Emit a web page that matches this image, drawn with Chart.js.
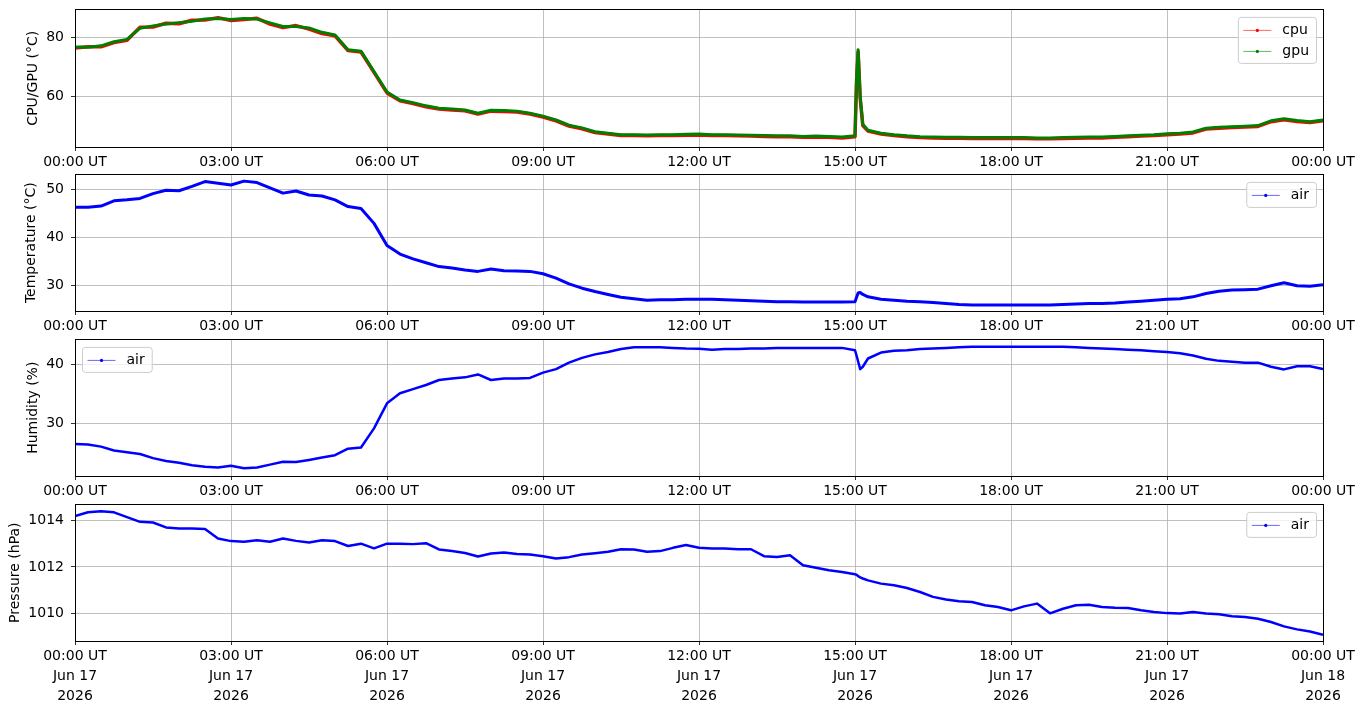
<!DOCTYPE html>
<html>
<head>
<meta charset="utf-8">
<title>Sensor log</title>
<script src="https://cdn.jsdelivr.net/npm/chart.js@4.4.1/dist/chart.umd.min.js"></script>
<style>
  body { margin: 0; background: #fff; width: 1364px; height: 707px; overflow: hidden; position: relative; }
  canvas { position: absolute; left: 0; }
</style>
</head>
<body>
<canvas id="cpuChart"></canvas>
<canvas id="tempChart"></canvas>
<canvas id="humChart"></canvas>
<canvas id="presChart"></canvas>
<script>
// hours since 00:00 UT, Jun 17 2026 (extra samples around the 15:00 event)
const hours = [0,0.25,0.5,0.75,1,1.25,1.5,1.75,2,2.25,2.5,2.75,3,3.25,3.5,3.75,4,4.25,4.5,4.75,
  5,5.25,5.5,5.75,6,6.25,6.5,6.75,7,7.25,7.5,7.75,8,8.25,8.5,8.75,9,9.25,9.5,9.75,
  10,10.25,10.5,10.75,11,11.25,11.5,11.75,12,12.25,12.5,12.75,13,13.25,13.5,13.75,14,14.25,14.5,14.75,
  15,15.03,15.06,15.1,15.15,15.25,15.5,15.75,16,16.25,16.5,16.75,17,17.25,17.5,17.75,
  18,18.25,18.5,18.75,19,19.25,19.5,19.75,20,20.25,20.5,20.75,21,21.25,21.5,21.75,
  22,22.25,22.5,22.75,23,23.25,23.5,23.75,24];

const gpuTemp = [76.8,76.7,77.2,78.6,79.4,83.2,84.0,84.6,85.1,85.6,86.3,86.5,86.2,86.5,86.3,85.0,83.8,83.8,83.3,81.8,
  80.9,75.9,75.4,68.5,61.5,58.8,57.9,56.8,56.0,55.7,55.4,54.3,55.3,55.2,55.0,54.3,53.3,52.0,50.2,49.3,
  48.0,47.5,47.0,47.0,46.9,47.0,47.0,47.1,47.2,47.0,47.0,46.9,46.8,46.7,46.6,46.6,46.4,46.5,46.4,46.2,
  46.6,66.0,75.9,59.9,50.5,48.5,47.5,47.0,46.6,46.3,46.2,46.1,46.1,46.0,46.0,46.0,
  46.0,46.0,45.9,45.9,46.0,46.1,46.2,46.2,46.4,46.6,46.8,47.0,47.3,47.5,47.9,49.2,
  49.5,49.7,49.9,50.1,51.7,52.4,51.8,51.4,52.0];

const cpuTemp = [76.5,76.9,76.9,78.3,79.1,83.5,83.6,84.9,84.7,85.9,86.0,86.8,85.8,86.2,86.6,84.6,83.4,84.1,82.9,81.4,
  80.6,75.6,75.1,68.2,61.2,58.5,57.6,56.5,55.7,55.4,55.1,54.0,55.0,54.9,54.7,54.0,53.0,51.7,49.9,49.0,
  47.7,47.2,46.7,46.7,46.6,46.7,46.7,46.8,46.9,46.7,46.7,46.6,46.5,46.4,46.3,46.3,46.1,46.2,46.1,45.9,
  46.3,65.4,75.2,59.3,50.1,48.2,47.2,46.7,46.3,46.0,45.9,45.8,45.8,45.7,45.7,45.7,
  45.7,45.7,45.6,45.6,45.7,45.8,45.9,45.9,46.1,46.3,46.5,46.7,47.0,47.2,47.6,48.9,
  49.2,49.4,49.6,49.8,51.4,52.1,51.5,51.1,51.7];

const airTemp = [46.25,46.25,46.5,47.6,47.8,48.1,49.1,49.8,49.7,50.6,51.6,51.25,50.9,51.7,51.4,50.3,49.2,49.65,48.8,48.6,
  47.8,46.4,46.0,42.9,38.3,36.5,35.5,34.7,33.9,33.6,33.2,32.9,33.4,33.05,33.0,32.9,32.4,31.5,30.3,29.4,
  28.7,28.1,27.5,27.2,26.9,27.0,27.0,27.1,27.1,27.1,27.0,26.9,26.8,26.7,26.6,26.6,26.5,26.5,26.5,26.5,
  26.6,27.5,28.4,28.5,28.1,27.6,27.1,26.9,26.7,26.6,26.4,26.2,26.0,25.9,25.9,25.9,
  25.9,25.9,25.9,25.9,26.0,26.1,26.2,26.2,26.3,26.5,26.7,26.9,27.1,27.2,27.6,28.3,
  28.75,29.0,29.1,29.2,29.9,30.55,29.9,29.8,30.1];

const airHumidity = [26.5,26.4,26.05,25.4,25.1,24.8,24.1,23.6,23.3,22.9,22.65,22.5,22.8,22.4,22.5,23.0,23.5,23.45,23.8,24.2,
  24.6,25.7,25.9,29.15,33.4,35.1,35.8,36.5,37.35,37.6,37.8,38.3,37.35,37.6,37.6,37.7,38.6,39.2,40.3,41.1,
  41.7,42.1,42.6,42.9,42.9,42.9,42.8,42.7,42.65,42.5,42.6,42.6,42.7,42.7,42.8,42.8,42.8,42.8,42.8,42.8,
  42.4,41.5,40.5,39.2,39.6,41.0,42.0,42.3,42.4,42.6,42.7,42.8,42.9,43.0,43.0,43.0,
  43.0,43.0,43.0,43.0,43.0,42.9,42.8,42.7,42.6,42.5,42.4,42.25,42.1,41.9,41.5,40.95,
  40.6,40.45,40.3,40.3,39.6,39.15,39.7,39.7,39.2];

const airPressure = [1014.19,1014.35,1014.40,1014.35,1014.14,1013.94,1013.91,1013.70,1013.65,1013.65,1013.63,1013.22,1013.11,1013.08,1013.15,1013.08,1013.22,1013.12,1013.05,1013.15,
  1013.11,1012.90,1013.00,1012.80,1013.00,1013.00,1012.98,1013.02,1012.75,1012.68,1012.60,1012.45,1012.58,1012.62,1012.55,1012.53,1012.46,1012.36,1012.42,1012.53,
  1012.59,1012.65,1012.76,1012.75,1012.65,1012.68,1012.82,1012.94,1012.82,1012.79,1012.79,1012.76,1012.76,1012.46,1012.43,1012.50,1012.07,1011.96,1011.86,1011.78,
  1011.68,1011.66,1011.60,1011.55,1011.50,1011.42,1011.28,1011.21,1011.09,1010.92,1010.71,1010.60,1010.52,1010.49,1010.35,1010.27,
  1010.13,1010.30,1010.42,1010.00,1010.20,1010.35,1010.37,1010.27,1010.24,1010.23,1010.13,1010.06,1010.01,1009.99,1010.06,1009.99,
  1009.96,1009.88,1009.84,1009.77,1009.63,1009.44,1009.31,1009.22,1009.08];

const xTickHours = [0, 3, 6, 9, 12, 15, 18, 21, 24];
const tickDates = ['Jun 17', 'Jun 18'];
const tickYear = '2026';

const FONT = 'DejaVu Sans';
const PLOT_LEFT = 75, PLOT_RIGHT = 1323;

function pairs(ys) {
  return hours.map((h, i) => ({ x: h, y: ys[i] }));
}

function hhLabel(v) {
  const hh = String(v % 24).padStart(2, '0');
  return hh + ':00 UT';
}

// matplotlib-like frame (all four spines) and legend box
const mplFrame = {
  id: 'mplFrame',
  afterDraw(chart, args, opts) {
    const { ctx, chartArea: a } = chart;
    ctx.save();
    // legend
    const items = opts.items || [];
    ctx.font = '14px "' + FONT + '"';
    const textW = Math.max(...items.map(it => ctx.measureText(it.label).width));
    const w = 5.5 + 28 + 11 + textW + 7;
    const rowH = 21;
    const h = items.length * rowH + 4;
    const bx = opts.corner === 'left' ? a.left + 7 : a.right - 7 - w;
    const by = a.top + 7.5;
    ctx.beginPath();
    ctx.roundRect(bx + 0.5, by + 0.5, w, h, 3);
    ctx.fillStyle = 'rgba(255,255,255,0.8)';
    ctx.fill();
    ctx.strokeStyle = '#cccccc';
    ctx.lineWidth = 1;
    ctx.stroke();
    items.forEach((it, i) => {
      const cy = by + 2 + rowH / 2 + i * rowH + 1;
      ctx.globalAlpha = 0.6;
      ctx.strokeStyle = it.color;
      ctx.lineWidth = 1;
      ctx.beginPath();
      ctx.moveTo(bx + 5.5, cy);
      ctx.lineTo(bx + 33.5, cy);
      ctx.stroke();
      ctx.globalAlpha = 1;
      ctx.fillStyle = it.color;
      ctx.beginPath();
      ctx.arc(bx + 19.5, cy, 1.6, 0, Math.PI * 2);
      ctx.fill();
      ctx.fillStyle = '#000';
      ctx.textBaseline = 'middle';
      ctx.textAlign = 'left';
      ctx.fillText(it.label, bx + 44.5, cy);
    });
    // spines
    ctx.strokeStyle = '#000';
    ctx.lineWidth = 1;
    ctx.strokeRect(Math.round(a.left) + 0.5, Math.round(a.top) + 0.5,
      Math.round(a.right - a.left), Math.round(a.bottom - a.top));
    ctx.restore();
  }
};

function makePanel(id, cfg) {
  const canvas = document.getElementById(id);
  let height = 20 + cfg.plotH + cfg.xAxisH;
  canvas.width = 1364;
  canvas.height = height;
  canvas.style.width = '1364px';
  canvas.style.height = height + 'px';

  const chart = new Chart(canvas.getContext('2d'), {
    type: 'line',
    data: { datasets: cfg.datasets },
    plugins: [mplFrame],
    options: {
      responsive: false,
      maintainAspectRatio: false,
      devicePixelRatio: 1,
      animation: false,
      events: [],
      layout: { padding: { top: 0, right: 1364 - PLOT_RIGHT, left: 0, bottom: 0 } },
      elements: {
        line: { tension: 0, borderJoinStyle: 'round' },
        point: { radius: 0 }
      },
      plugins: {
        legend: { display: false },
        tooltip: { enabled: false },
        mplFrame: { items: cfg.legend, corner: cfg.legendCorner }
      },
      scales: {
        x: {
          type: 'linear',
          min: 0,
          max: 24,
          afterFit: s => {
            s.height = cfg.xAxisH;
            s.paddingLeft = 0;
            s.paddingRight = 0;
          },
          afterBuildTicks: s => { s.ticks = xTickHours.map(v => ({ value: v })); },
          border: { display: false },
          grid: { color: '#b0b0b0', lineWidth: 0.8, tickColor: '#000', tickLength: 4 },
          ticks: {
            color: '#000',
            padding: 2,
            maxRotation: 0,
            autoSkip: false,
            font: { family: FONT, size: 14, lineHeight: 1.4 },
            callback: v => cfg.dateTicks
              ? [hhLabel(v), v >= 24 ? tickDates[1] : tickDates[0], tickYear]
              : hhLabel(v)
          }
        },
        y: {
          min: cfg.yMin,
          max: cfg.yMax,
          afterFit: s => { s.width = PLOT_LEFT; },
          border: { display: false },
          grid: { color: '#b0b0b0', lineWidth: 0.8, tickColor: '#000', tickLength: 4 },
          title: {
            display: true,
            text: cfg.yTitle,
            color: '#000',
            font: { family: FONT, size: 14 },
            padding: { top: cfg.titlePad, bottom: 0 }
          },
          ticks: {
            color: '#000',
            padding: 7,
            stepSize: cfg.yStep,
            includeBounds: false,
            font: { family: FONT, size: 14 },
            callback: v => String(v)
          }
        }
      }
    }
  });

  // nudge padding / canvas size until the plot area sits where the reference has it
  for (let k = 0; k < 4; k++) {
    const a = chart.chartArea;
    const pad = chart.options.layout.padding;
    pad.right = Math.max(0, pad.right + (a.right - PLOT_RIGHT));
    height = Math.round(a.top + cfg.plotH + cfg.xAxisH);
    canvas.style.width = '1364px';
    canvas.style.height = height + 'px';
    chart.resize(1364, height);
    chart.update('none');
  }
  canvas.style.top = Math.round(cfg.plotTop - chart.chartArea.top) + 'px';
  return chart;
}

makePanel('cpuChart', {
  plotTop: 9, plotH: 138, xAxisH: 30,
  yMin: 42.8, yMax: 89.6, yStep: 20, yTitle: 'CPU/GPU (°C)', titlePad: 25,
  legend: [{ label: 'cpu', color: '#ff0000' }, { label: 'gpu', color: '#008000' }],
  legendCorner: 'right',
  datasets: [
    { label: 'cpu', data: pairs(cpuTemp), borderColor: '#ff0000', borderWidth: 3.5, order: 1 },
    { label: 'gpu', data: pairs(gpuTemp), borderColor: '#008000', borderWidth: 3, order: 0 }
  ]
});

makePanel('tempChart', {
  plotTop: 174, plotH: 137, xAxisH: 30,
  yMin: 24.65, yMax: 53.1, yStep: 10, yTitle: 'Temperature (°C)', titlePad: 23,
  legend: [{ label: 'air', color: '#0000ff' }],
  legendCorner: 'right',
  datasets: [
    { label: 'air', data: pairs(airTemp), borderColor: '#0000ff', borderWidth: 3 }
  ]
});

makePanel('humChart', {
  plotTop: 339, plotH: 137, xAxisH: 30,
  yMin: 21.07, yMax: 44.24, yStep: 10, yTitle: 'Humidity (%)', titlePad: 25,
  legend: [{ label: 'air', color: '#0000ff' }],
  legendCorner: 'left',
  datasets: [
    { label: 'air', data: pairs(airHumidity), borderColor: '#0000ff', borderWidth: 2.5 }
  ]
});

makePanel('presChart', {
  plotTop: 504, plotH: 137, xAxisH: 62, dateTicks: true,
  yMin: 1008.81, yMax: 1014.69, yStep: 2, yTitle: 'Pressure (hPa)', titlePad: 7,
  legend: [{ label: 'air', color: '#0000ff' }],
  legendCorner: 'right',
  datasets: [
    { label: 'air', data: pairs(airPressure), borderColor: '#0000ff', borderWidth: 2.5 }
  ]
});
</script>
</body>
</html>
